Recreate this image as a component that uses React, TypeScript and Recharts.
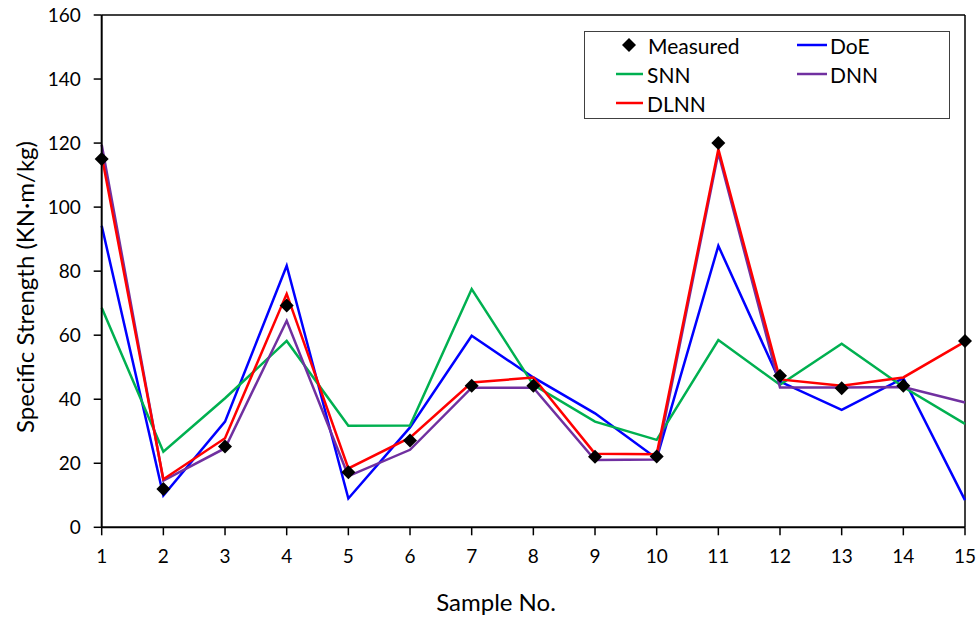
import React from 'react';
import { LineChart, Line, XAxis, YAxis, ReferenceLine, Legend } from 'recharts';

const samples = [1, 2, 3, 4, 5, 6, 7, 8, 9, 10, 11, 12, 13, 14, 15];
const measured = [115, 12, 25.2, 69.3, 17.2, 27.1, 44.2, 44.2, 22, 22.1, 120, 47.3, 43.4, 44.2, 58.2];
const doe = [94.2, 9.9, 33, 81.7, 9, 31.2, 59.8, 46.8, 35.6, 21.5, 87.9, 45.5, 36.7, 46.6, 8.5];
const snn = [68.6, 23.6, 40.3, 58.2, 31.7, 31.8, 74.4, 44.5, 33, 27.3, 58.5, 44.5, 57.3, 43.8, 32.3];
const dnn = [119.5, 14.6, 24.7, 64.5, 16, 24.2, 43.6, 43.6, 21, 21.2, 116.9, 43.7, 43.7, 43.8, 39];
const dlnn = [116, 15, 27.8, 72.9, 18.4, 28, 45.2, 46.8, 23, 22.8, 118.1, 46.2, 44.2, 46.8, 58];
const yTicks = [0, 20, 40, 60, 80, 100, 120, 140, 160];

const FONT = 'Lato, "Liberation Sans", sans-serif';

const data = samples.map((s, i) => ({
  sample: s,
  measured: measured[i],
  doe: doe[i],
  snn: snn[i],
  dnn: dnn[i],
  dlnn: dlnn[i],
}));

const Diamond = (props: any) => {
  const { cx, cy } = props;
  if (cx == null || cy == null) return null;
  const r = 7;
  return (
    <polygon
      points={`${cx},${cy - r} ${cx + r},${cy} ${cx},${cy + r} ${cx - r},${cy}`}
      fill="#000"
    />
  );
};

const LegendBox = () => {
  const ts = { fontFamily: FONT, fontSize: 21, fill: '#000' } as any;
  return (
    <svg width={366} height={88} style={{ display: 'block' }}>
      <rect x={0.5} y={0.5} width={365} height={87} fill="#fff" stroke="#404040" strokeWidth={1} />
      <polygon points="45,7 52,14 45,21 38,14" fill="#000" />
      <text x={64} y={14} dominantBaseline="central" style={ts}>Measured</text>
      <line x1={213} x2={243} y1={14} y2={14} stroke="#0000FF" strokeWidth={2.5} />
      <text x={246} y={14} dominantBaseline="central" style={ts}>DoE</text>
      <line x1={32} x2={59} y1={43} y2={43} stroke="#00B050" strokeWidth={2.5} />
      <text x={63} y={43} dominantBaseline="central" style={ts}>SNN</text>
      <line x1={213} x2={243} y1={43} y2={43} stroke="#7030A0" strokeWidth={2.5} />
      <text x={246} y={43} dominantBaseline="central" style={ts}>DNN</text>
      <line x1={32} x2={59} y1={72} y2={72} stroke="#FF0000" strokeWidth={2.5} />
      <text x={63} y={72} dominantBaseline="central" style={ts}>DLNN</text>
    </svg>
  );
};

const YTitle = () => (
  <text
    x={24}
    y={287}
    transform="rotate(-90 24 287)"
    textAnchor="middle"
    dominantBaseline="central"
    style={{ fontFamily: FONT, fontSize: 24, fill: '#000' }}
  >
    Specific Strength (KN·m/kg)
  </text>
);

const XTitle = () => (
  <text
    x={496}
    y={611}
    textAnchor="middle"
    style={{ fontFamily: FONT, fontSize: 24, fill: '#000' }}
  >
    Sample No.
  </text>
);

export default function App() {
  const tickStyle = { fill: '#000', fontSize: 19, fontFamily: FONT };
  return (
    <div style={{ position: 'absolute', left: 0, top: 0 }}>
      <LineChart
        width={980}
        height={621}
        data={data}
        margin={{ top: 15, right: 15, bottom: 0, left: 0 }}
        style={{ fontFamily: FONT }}
      >
        <XAxis
          dataKey="sample"
          type="number"
          domain={[1, 15]}
          ticks={samples}
          height={93.7}
          tickSize={8}
          tickMargin={14}
          axisLine={{ stroke: '#000', strokeWidth: 2 }}
          tickLine={{ stroke: '#000', strokeWidth: 1.5 }}
          tick={tickStyle}
          label={<XTitle />}
        />
        <YAxis
          type="number"
          domain={[0, 160]}
          ticks={yTicks}
          width={101.7}
          tickSize={8}
          tickMargin={13}
          axisLine={{ stroke: '#000', strokeWidth: 2 }}
          tickLine={{ stroke: '#000', strokeWidth: 1.5 }}
          tick={tickStyle}
          label={<YTitle />}
        />
        <ReferenceLine y={160} stroke="#000" strokeWidth={1.5} />
        <ReferenceLine x={15} stroke="#000" strokeWidth={1.5} />
        <Line type="linear" dataKey="doe" stroke="#0000FF" strokeWidth={2.5} dot={false} activeDot={false} isAnimationActive={false} />
        <Line type="linear" dataKey="snn" stroke="#00B050" strokeWidth={2.5} dot={false} activeDot={false} isAnimationActive={false} />
        <Line type="linear" dataKey="dnn" stroke="#7030A0" strokeWidth={2.5} dot={false} activeDot={false} isAnimationActive={false} />
        <Line type="linear" dataKey="dlnn" stroke="#FF0000" strokeWidth={2.5} dot={false} activeDot={false} isAnimationActive={false} />
        <Line type="linear" dataKey="measured" stroke="none" dot={<Diamond />} activeDot={false} isAnimationActive={false} />
        <Legend
          layout="horizontal"
          align="center"
          verticalAlign="middle"
          content={() => <LegendBox />}
          wrapperStyle={{ position: 'absolute', left: 584, top: 31, width: 366, height: 88 }}
        />
      </LineChart>
    </div>
  );
}
